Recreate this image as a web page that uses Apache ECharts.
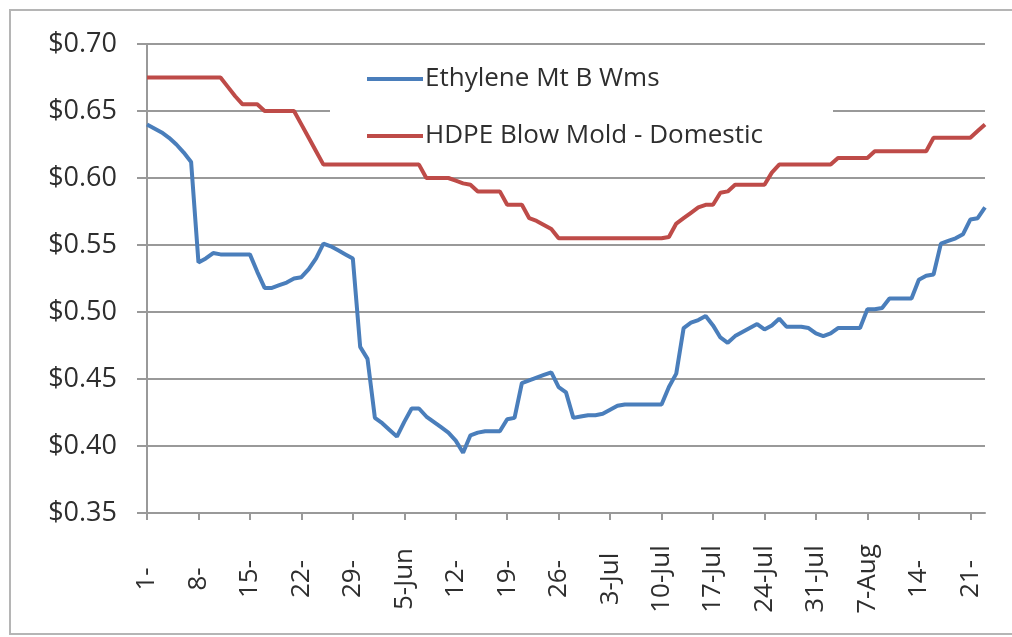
<!DOCTYPE html>
<html>
<head>
<meta charset="utf-8">
<script src="https://cdn.jsdelivr.net/npm/echarts@6/dist/echarts.min.js"></script>
<style>
  html, body { margin: 0; padding: 0; background: #fff; }
  #chart { width: 1012px; height: 637px; }
</style>
</head>
<body>
<div id="chart"></div>
<script>
// one value per calendar day, 1 May .. 23 Aug
const ethylene = [
  0.640, 0.637, 0.634, 0.630, 0.625, 0.619, 0.612, 0.537, 0.540, 0.544,
  0.543, 0.543, 0.543, 0.543, 0.543, 0.530, 0.518, 0.518, 0.520, 0.522,
  0.525, 0.526, 0.532, 0.540, 0.551, 0.549, 0.546, 0.543, 0.540, 0.474,
  0.465, 0.421, 0.417, 0.412, 0.407, 0.418, 0.428, 0.428, 0.422, 0.418,
  0.414, 0.410, 0.404, 0.395, 0.408, 0.410, 0.411, 0.411, 0.411, 0.420,
  0.421, 0.447, 0.449, 0.451, 0.453, 0.455, 0.444, 0.440, 0.421, 0.422,
  0.423, 0.423, 0.424, 0.427, 0.430, 0.431, 0.431, 0.431, 0.431, 0.431,
  0.431, 0.444, 0.454, 0.488, 0.492, 0.494, 0.497, 0.490, 0.481, 0.477,
  0.482, 0.485, 0.488, 0.491, 0.487, 0.490, 0.495, 0.489, 0.489, 0.489,
  0.488, 0.484, 0.482, 0.484, 0.488, 0.488, 0.488, 0.488, 0.502, 0.502,
  0.503, 0.510, 0.510, 0.510, 0.510, 0.524, 0.527, 0.528, 0.551, 0.553,
  0.555, 0.558, 0.569, 0.570, 0.578
];
const hdpe = [
  0.675, 0.675, 0.675, 0.675, 0.675, 0.675, 0.675, 0.675, 0.675, 0.675,
  0.675, 0.668, 0.661, 0.655, 0.655, 0.655, 0.650, 0.650, 0.650, 0.650,
  0.650, 0.640, 0.630, 0.620, 0.610, 0.610, 0.610, 0.610, 0.610, 0.610,
  0.610, 0.610, 0.610, 0.610, 0.610, 0.610, 0.610, 0.610, 0.600, 0.600,
  0.600, 0.600, 0.598, 0.596, 0.595, 0.590, 0.590, 0.590, 0.590, 0.580,
  0.580, 0.580, 0.570, 0.568, 0.565, 0.562, 0.555, 0.555, 0.555, 0.555,
  0.555, 0.555, 0.555, 0.555, 0.555, 0.555, 0.555, 0.555, 0.555, 0.555,
  0.555, 0.556, 0.566, 0.570, 0.574, 0.578, 0.580, 0.580, 0.589, 0.590,
  0.595, 0.595, 0.595, 0.595, 0.595, 0.604, 0.610, 0.610, 0.610, 0.610,
  0.610, 0.610, 0.610, 0.610, 0.615, 0.615, 0.615, 0.615, 0.615, 0.620,
  0.620, 0.620, 0.620, 0.620, 0.620, 0.620, 0.620, 0.630, 0.630, 0.630,
  0.630, 0.630, 0.630, 0.635, 0.640
];
// weekly tick labels, as printed (every 7th day)
const tickLabels = ['1-', '8-', '15-', '22-', '29-', '5-Jun', '12-', '19-', '26-',
  '3-Jul', '10-Jul', '17-Jul', '24-Jul', '31-Jul', '7-Aug', '14-', '21-'];
const seriesNames = ['Ethylene Mt B Wms', 'HDPE Blow Mold - Domestic'];

const days = ethylene.map((v, i) => 'd' + i);

const FONT = '"Open Sans"';
const chart = echarts.init(document.getElementById('chart'));

chart.setOption({
  animation: false,
  backgroundColor: '#fff',
  textStyle: { fontFamily: FONT },
  graphic: [{
    type: 'rect',
    shape: { x: 10, y: 10, width: 1010, height: 624 },
    style: { fill: 'none', stroke: '#b5b5b5', lineWidth: 2 },
    z: -1
  }],
  grid: { left: 147, right: 27, top: 44, bottom: 124 },
  legend: {
    orient: 'vertical',
    left: 330,
    top: 58,
    padding: [8, 70, 8, 37],
    backgroundColor: '#fff',
    itemGap: 31,
    itemWidth: 56,
    itemHeight: 4,
    icon: 'rect',
    textStyle: { fontSize: 26, color: '#2e2e2e', fontFamily: FONT, padding: [0, 0, 0, -3] },
    data: seriesNames
  },
  xAxis: {
    type: 'category',
    data: days,
    boundaryGap: false,
    axisLine: { lineStyle: { color: '#999', width: 2 } },
    axisTick: { interval: 6, length: 7, lineStyle: { color: '#999', width: 2 } },
    axisLabel: {
      interval: 6,
      rotate: 90,
      align: 'center',
      verticalAlign: 'middle',
      margin: 66,
      fontSize: 26,
      color: '#2e2e2e',
      formatter: (v, i) => tickLabels[Math.round(i / 7)]
    },
    splitLine: { show: false }
  },
  yAxis: {
    type: 'value',
    min: 0.35,
    max: 0.70,
    interval: 0.05,
    axisLine: { show: true, lineStyle: { color: '#999', width: 2 } },
    axisTick: { show: true, length: 10, lineStyle: { color: '#999', width: 2 } },
    axisLabel: {
      margin: 30,
      fontSize: 27,
      color: '#2e2e2e',
      formatter: v => '$' + v.toFixed(2)
    },
    splitLine: { lineStyle: { color: '#999', width: 2 } }
  },
  series: [
    {
      name: seriesNames[0],
      type: 'line',
      data: ethylene,
      showSymbol: false,
      color: '#4a7ebb',
      lineStyle: { width: 4, color: '#4a7ebb' },
      z: 3
    },
    {
      name: seriesNames[1],
      type: 'line',
      data: hdpe,
      showSymbol: false,
      color: '#be4b48',
      lineStyle: { width: 4, color: '#be4b48' },
      z: 3
    }
  ]
});
</script>
</body>
</html>
